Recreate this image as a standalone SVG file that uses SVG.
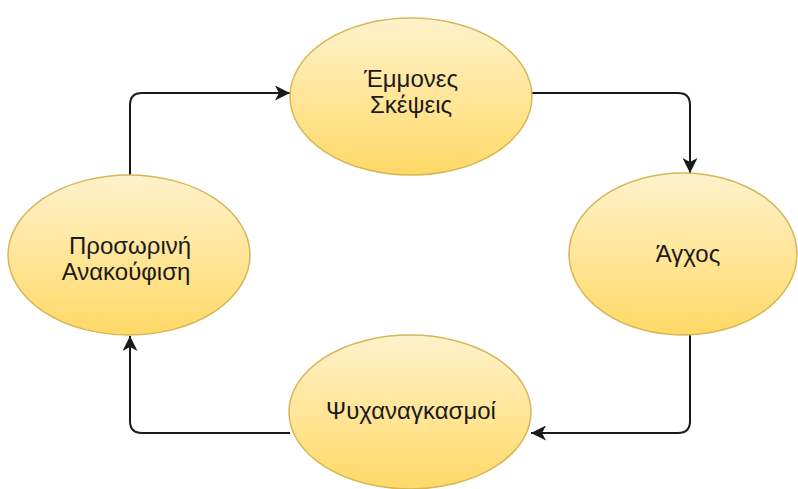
<svg xmlns="http://www.w3.org/2000/svg" width="798" height="489" viewBox="0 0 798 489">
<style>
.node{fill:url(#g);stroke:#d6b656;stroke-width:1.5}
.lbl{font-family:"Liberation Sans",Arial,sans-serif;font-size:24px;fill:#1a1a1a;text-anchor:middle}
.edge{fill:none;stroke:#1a1a1a;stroke-width:2}
</style>
<defs>
<linearGradient id="g" x1="0" y1="0" x2="0" y2="1">
<stop offset="0" stop-color="#fff2cc"/>
<stop offset="1" stop-color="#ffd966"/>
</linearGradient>
<marker id="arr" markerUnits="userSpaceOnUse" markerWidth="17" markerHeight="15" refX="15" refY="7.5" orient="auto" viewBox="0 0 17 15">
<path d="M0,0 L15,7.5 L0,15 L4,7.5 Z" fill="#1a1a1a"/>
</marker>
</defs>
<rect width="798" height="489" fill="#ffffff"/>
<g id="connectors">
<path class="edge" d="M130 175 V105 Q130 93 142 93 H290" marker-end="url(#arr)"/>
<path class="edge" d="M532 93 H678 Q690 93 690 105 V173" marker-end="url(#arr)"/>
<path class="edge" d="M690 335 V421 Q690 433 678 433 H531" marker-end="url(#arr)"/>
<path class="edge" d="M290 433 H142 Q130 433 130 421 V336" marker-end="url(#arr)"/>
</g>
<g id="node-emmones">
<ellipse class="node" cx="411" cy="96.5" rx="121" ry="78.5"/>
<text class="lbl" x="411" y="87">Έμμονες</text>
<text class="lbl" x="411" y="113">Σκέψεις</text>
</g>
<g id="node-agchos">
<ellipse class="node" cx="683" cy="254" rx="114" ry="81"/>
<text class="lbl" x="688" y="262">Άγχος</text>
</g>
<g id="node-psychanagkasmoi">
<ellipse class="node" cx="410" cy="412" rx="121" ry="77"/>
<text class="lbl" x="411" y="419">Ψυχαναγκασμοί</text>
</g>
<g id="node-prosorini">
<ellipse class="node" cx="129" cy="255" rx="121" ry="80"/>
<text class="lbl" x="130" y="254">Προσωρινή</text>
<text class="lbl" x="126" y="280">Ανακούφιση</text>
</g>
</svg>
